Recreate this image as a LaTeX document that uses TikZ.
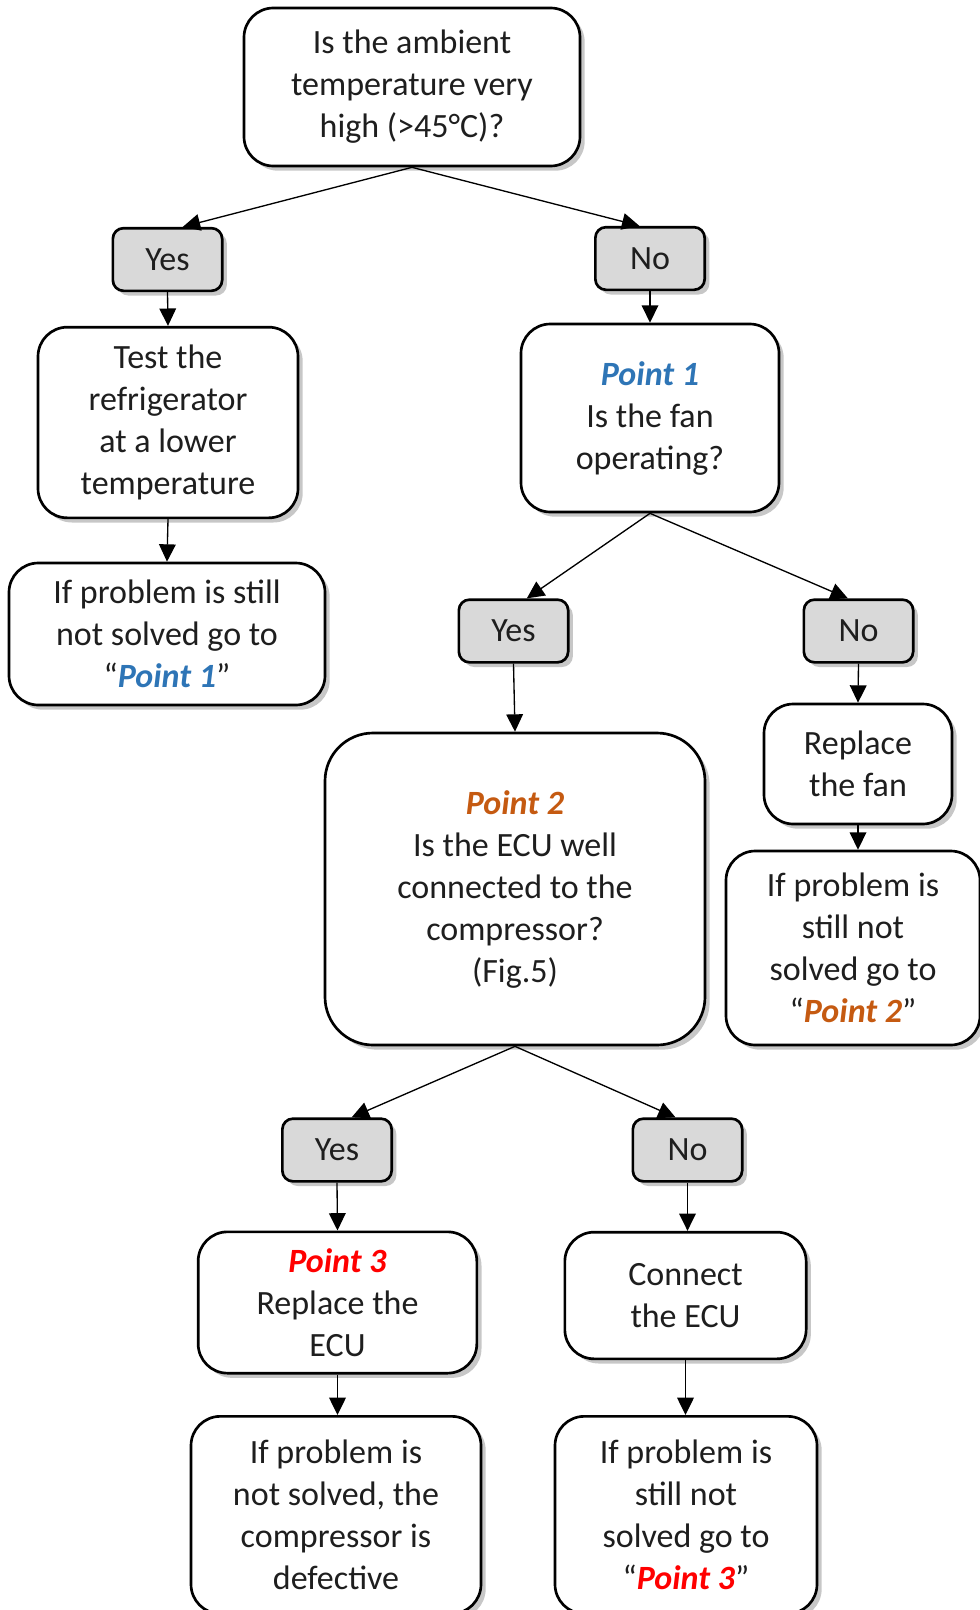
\documentclass[tikz,border=0pt]{standalone}
\usepackage{fontspec}
\setmainfont{Carlito}
\usetikzlibrary{arrows.meta,shadows}
\definecolor{pone}{HTML}{2E75B6}
\definecolor{ptwo}{HTML}{C55A11}
\definecolor{pthree}{HTML}{FF0000}
\definecolor{ansfill}{HTML}{D9D9D9}
\definecolor{txt}{HTML}{1E1E1E}
\newcommand{\pone}[1]{\textcolor{pone}{\textbf{\textit{#1}}}}
\newcommand{\ptwo}[1]{\textcolor{ptwo}{\textbf{\textit{#1}}}}
\newcommand{\pthree}[1]{\textcolor{pthree}{\textbf{\textit{#1}}}}
\tikzset{
  base/.style={draw=black, line width=2pt, align=center, text=txt, inner sep=0pt,
    font=\fontsize{25.5}{31.5}\selectfont,
    drop shadow={shadow xshift=3.5pt, shadow yshift=-3.5pt, fill=black, opacity=0.22}},
  stepbox/.style={base, fill=white, rounded corners=22pt},
  bigbox/.style={base, fill=white, rounded corners=36pt},
  ansbox/.style={base, fill=ansfill, rounded corners=8pt, minimum width=82pt, minimum height=47pt},
  link/.style={draw=black, line width=1pt, -{Triangle[width=12.5pt,length=13pt]}}
}
\begin{document}
\begin{tikzpicture}[x=0.75pt,y=-0.75pt]
\fill[white] (0,0) rectangle (980,1610);
\useasboundingbox (0,0) rectangle (980,1610);

\node[stepbox, minimum width=252pt, minimum height=118.5pt] (top) at (412,87)
  {Is the ambient\\temperature very\\high (>45°C)?};

\node[ansbox] (yes1) at (167.5,259.5) {Yes};
\node[ansbox] (no1) at (650,258.5) {No};

\node[stepbox, minimum width=195pt, minimum height=143pt] (test) at (168,422.5)
  {Test the\\refrigerator\\at a lower\\temperature};
\node[stepbox, minimum width=237pt, minimum height=106.5pt] (if1) at (167,634)
  {If problem is still\\not solved go to\\“\pone{Point 1}”};

\node[stepbox, minimum width=193.5pt, minimum height=141pt] (point1) at (650,418)
  {\pone{Point 1}\\Is the fan\\operating?};

\node[ansbox] (yes2) at (513.5,631) {Yes};
\node[ansbox] (no2) at (858.5,631) {No};

\node[bigbox, minimum width=285pt, minimum height=234pt] (point2) at (515,889)
  {\ptwo{Point 2}\\Is the ECU well\\connected to the\\compressor?\\(Fig.5)};

\node[stepbox, minimum width=141pt, minimum height=90pt] (replace) at (858,764)
  {Replace\\the fan};
\node[stepbox, minimum width=190.5pt, minimum height=145.5pt] (if2) at (853,948)
  {If problem is\\still not\\solved go to\\“\ptwo{Point 2}”};

\node[ansbox] (yes3) at (337,1150) {Yes};
\node[ansbox] (no3) at (687.5,1150) {No};

\node[stepbox, minimum width=209pt, minimum height=106pt] (point3) at (337.5,1302.5)
  {\pthree{Point 3}\\Replace the\\ECU};
\node[stepbox, minimum width=181pt, minimum height=95pt] (connect) at (685.5,1295.5)
  {Connect\\the ECU};

\node[stepbox, minimum width=217.5pt, minimum height=148pt] (if3) at (336,1515)
  {If problem is\\not solved, the\\compressor is\\defective};
\node[stepbox, minimum width=196.5pt, minimum height=148pt] (if4) at (686,1515)
  {If problem is\\still not\\solved go to\\“\pthree{Point 3}”};

% connectors
\draw[link] (top.south) -- ([xshift=11.5pt]yes1.north);
\draw[link] (top.south) -- ([xshift=-8pt]no1.north);
\draw[link] (yes1.south) -- (test.north);
\draw[link] (test.south) -- (if1.north);
\draw[link] (no1.south) -- (point1.north);
\draw[link] (point1.south) -- ([xshift=10pt]yes2.north);
\draw[link] (point1.south) -- ([xshift=-8pt]no2.north);
\draw[link] (yes2.south) -- (point2.north);
\draw[link] (no2.south) -- (replace.north);
\draw[link] (replace.south) -- (replace.south |- if2.north);
\draw[link] (point2.south) -- ([xshift=11pt]yes3.north);
\draw[link] (point2.south) -- ([xshift=-9pt]no3.north);
\draw[link] (yes3.south) -- (point3.north);
\draw[link] (no3.south) -- (no3.south |- connect.north);
\draw[link] (point3.south) -- (point3.south |- if3.north);
\draw[link] (connect.south) -- (connect.south |- if4.north);
\end{tikzpicture}
\end{document}
